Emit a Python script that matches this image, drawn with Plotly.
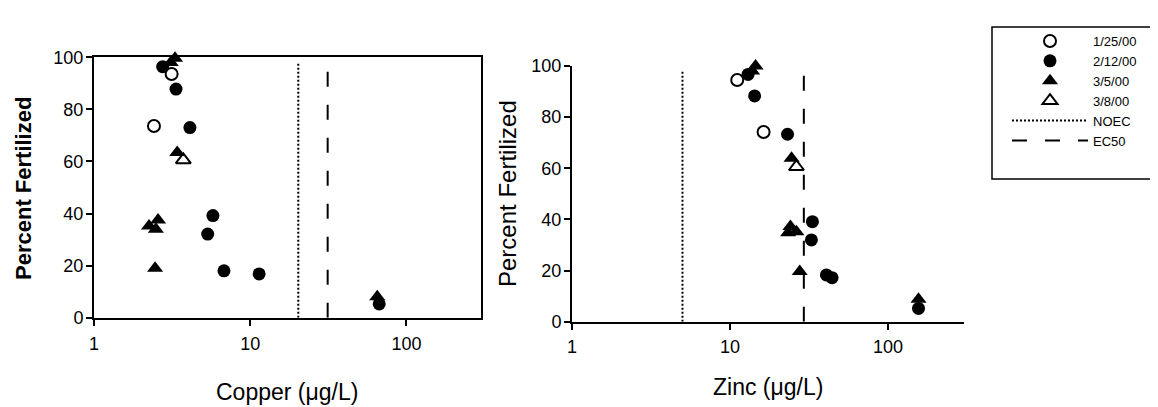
import plotly.graph_objects as go

# ---------------- data ----------------
series_names = ["1/25/00", "2/12/00", "3/5/00", "3/8/00"]

cu_0125 = [3.14, 2.42]
pf_0125_cu = [93.6, 73.6]
cu_0212 = [2.75, 3.35, 4.11, 5.77, 5.34, 6.79, 11.4, 66.9]
pf_0212_cu = [96.4, 87.8, 73.0, 39.2, 32.1, 18.0, 16.8, 5.3]
cu_0305 = [3.1, 3.3, 3.41, 2.25, 2.57, 2.49, 2.46, 65.0]
pf_0305_cu = [98.0, 99.6, 63.4, 35.2, 37.5, 34.0, 19.0, 8.0]
cu_0308 = [3.73]
pf_0308_cu = [60.6]

zn_0125 = [11.1, 16.3]
pf_0125_zn = [94.5, 74.2]
zn_0212 = [13.0, 14.3, 23.1, 33.2, 32.7, 40.7, 44.2, 155.7]
pf_0212_zn = [96.7, 88.3, 73.3, 39.1, 32.0, 18.3, 17.2, 5.2]
zn_0305 = [13.8, 14.5, 24.5, 24.1, 23.3, 26.3, 27.6, 155.7]
pf_0305_zn = [98.0, 100.0, 63.9, 37.2, 34.8, 35.2, 19.6, 8.8]
zn_0308 = [26.3]
pf_0308_zn = [60.6]

cu_noec, cu_ec50 = 20.3, 31.3
zn_noec, zn_ec50 = 5.0, 29.3
ref_line_y = [0, 98]

x_ticks = [1, 10, 100]
y_ticks = [0, 20, 40, 60, 80, 100]

# ---------------- styling ----------------
# page body has an 8px margin, so the figure is drawn 8px right/down
OFF = 8
W, H = 1158 - OFF, 407 - OFF
FONT = "Arial, Liberation Sans, sans-serif"

def px_x(p):
    return (p - OFF) / W

def px_y(p):
    return 1 - (p - OFF) / H

marker_styles = {
    "1/25/00": dict(symbol="circle-open", size=12, color="black", line=dict(width=2, color="black")),
    "2/12/00": dict(symbol="circle", size=13, color="black", line=dict(width=0)),
    "3/5/00": dict(symbol="triangle-up", size=14, color="black", line=dict(width=0)),
    "3/8/00": dict(symbol="triangle-up-open", size=13, color="black", line=dict(width=2, color="black")),
}

cu_sets = [(cu_0125, pf_0125_cu), (cu_0212, pf_0212_cu), (cu_0305, pf_0305_cu), (cu_0308, pf_0308_cu)]
zn_sets = [(zn_0125, pf_0125_zn), (zn_0212, pf_0212_zn), (zn_0305, pf_0305_zn), (zn_0308, pf_0308_zn)]

fig = go.Figure()

for name, (xs, ys) in zip(series_names, cu_sets):
    fig.add_trace(go.Scatter(x=xs, y=ys, mode="markers", name=name, legendgroup=name,
                             marker=marker_styles[name], xaxis="x", yaxis="y", cliponaxis=False))
for name, (xs, ys) in zip(series_names, zn_sets):
    fig.add_trace(go.Scatter(x=xs, y=ys, mode="markers", name=name, legendgroup=name, showlegend=False,
                             marker=marker_styles[name], xaxis="x2", yaxis="y2", cliponaxis=False))

noec_line = dict(color="black", width=2, dash="2px,2px")
ec50_line = dict(color="black", width=2, dash="15px,18px")

fig.add_trace(go.Scatter(x=[cu_noec] * 2, y=ref_line_y, mode="lines", name="NOEC", legendgroup="NOEC",
                         line=noec_line, xaxis="x", yaxis="y"))
fig.add_trace(go.Scatter(x=[cu_ec50] * 2, y=ref_line_y, mode="lines", name="EC50", legendgroup="EC50",
                         line=ec50_line, xaxis="x", yaxis="y"))
fig.add_trace(go.Scatter(x=[zn_noec] * 2, y=ref_line_y, mode="lines", name="NOEC", legendgroup="NOEC",
                         showlegend=False, line=noec_line, xaxis="x2", yaxis="y2"))
fig.add_trace(go.Scatter(x=[zn_ec50] * 2, y=ref_line_y, mode="lines", name="EC50", legendgroup="EC50",
                         showlegend=False, line=ec50_line, xaxis="x2", yaxis="y2"))

tick_font = dict(family=FONT, size=18, color="black")

def xaxis_cfg(domain, anchor, mirror, standoff):
    return dict(type="log", range=[0, 2.477], domain=domain, anchor=anchor,
                tickvals=x_ticks, ticktext=[str(v) for v in x_ticks],
                showline=True, linecolor="black", linewidth=2, mirror=mirror,
                ticks="outside", ticklen=6, tickwidth=2, tickcolor="black",
                showgrid=False, zeroline=False, tickfont=tick_font,
                ticklabelstandoff=standoff, automargin=False, fixedrange=True)

def yaxis_cfg(domain, anchor, mirror, standoff):
    return dict(range=[0, 100], domain=domain, anchor=anchor,
                tickvals=y_ticks, showline=True, linecolor="black", linewidth=2, mirror=mirror,
                ticks="outside", ticklen=6, tickwidth=2, tickcolor="black",
                showgrid=False, zeroline=False, tickfont=tick_font,
                ticklabelstandoff=standoff, automargin=False, fixedrange=True)

def title_ann(text, x, y, size, angle=0):
    return dict(text=text, xref="paper", yref="paper", x=px_x(x), y=px_y(y),
                xanchor="center", yanchor="middle", textangle=angle, showarrow=False,
                font=dict(family=FONT, size=size, color="black"))

fig.update_layout(
    width=W, height=H,
    margin=dict(l=0, r=0, t=0, b=0),
    paper_bgcolor="white", plot_bgcolor="white",
    font=dict(family=FONT, color="black"),
    xaxis=xaxis_cfg([px_x(94), px_x(481)], "y", True, 3),
    yaxis=yaxis_cfg([px_y(317.7), px_y(57.3)], "x", True, -1),
    xaxis2=xaxis_cfg([px_x(572), px_x(963.5)], "y2", False, 2),
    yaxis2=yaxis_cfg([px_y(321.7), px_y(66)], "x2", False, -1),
    legend=dict(x=px_x(1007), y=px_y(26), xanchor="left", yanchor="top",
                bgcolor="rgba(0,0,0,0)", borderwidth=0,
                font=dict(family=FONT, size=13, color="black"),
                itemwidth=76, tracegroupgap=0),
    showlegend=True,
    shapes=[dict(type="rect", xref="paper", yref="paper",
                 x0=px_x(992), x1=px_x(1155), y0=px_y(179), y1=px_y(27),
                 line=dict(color="black", width=1.5), fillcolor="rgba(0,0,0,0)", layer="below")],
    annotations=[
        title_ann("<b>Percent Fertilized</b>", 24, 189, 22, -90),
        title_ann("Percent Fertilized", 507, 194, 24, -90),
        title_ann("Copper (μg/L)", 287, 392, 23),
        title_ann("Zinc (μg/L)", 768, 387, 23),
    ],
)

fig.write_html("out.html")
